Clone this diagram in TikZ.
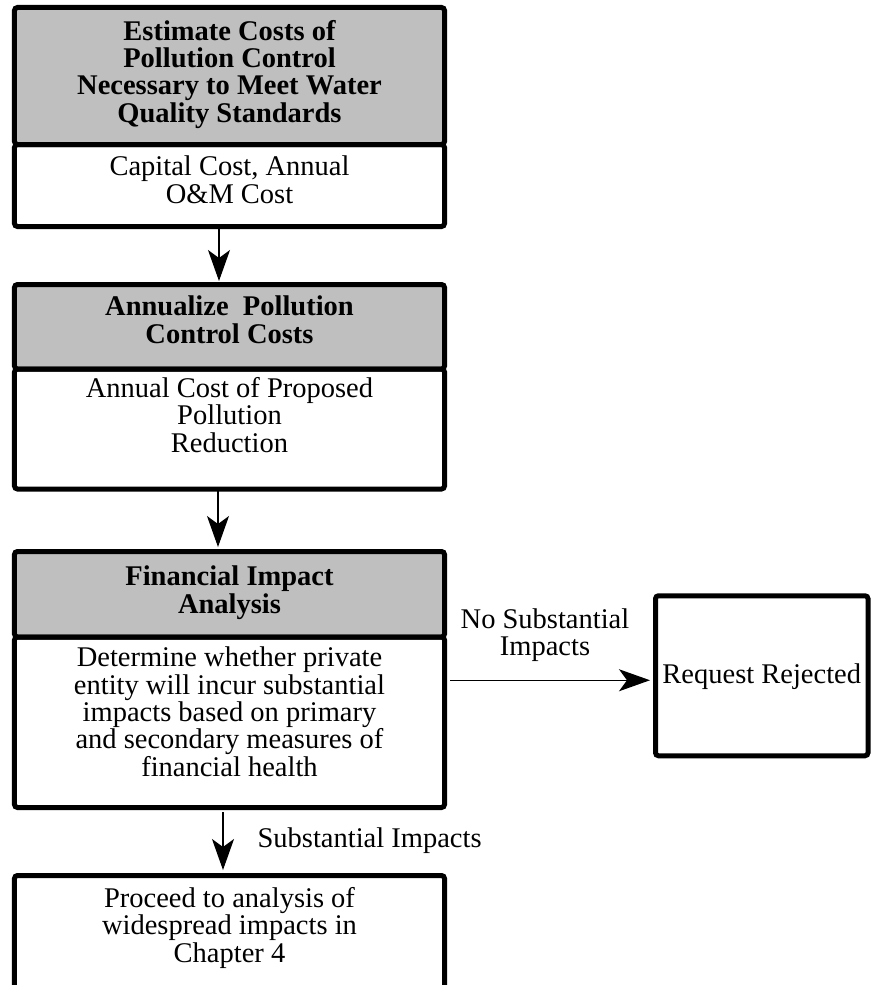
\documentclass[tikz,border=0pt]{standalone}
\usepackage{fontspec}
\setmainfont{Liberation Serif}
\usetikzlibrary{arrows.meta,positioning}
\definecolor{headgray}{gray}{0.75}
\tikzset{
    -{Stealth[length=31pt,width=22pt,inset=8pt]},auto,node distance =58pt and 211pt,
    box/.style ={rectangle, draw, line width=5pt, rounded corners=3pt, minimum width=430pt,
                 inner ysep=0pt, outer sep=0pt, align=center, font=\fontsize{28.5pt}{27.3pt}\selectfont},
    head/.style = {box, fill=headgray, font=\fontsize{28.5pt}{27.3pt}\selectfont\bfseries},
    link/.style = {line width=1.2pt},
    el/.style = {inner sep=0pt, align=center, font=\fontsize{28.5pt}{27.3pt}\selectfont}
}
\begin{document}
\begin{tikzpicture}
    \node[head, text height=114.5pt, text depth=22.5pt] (cost) {Estimate Costs of\\Pollution Control\\Necessary to Meet Water\\Quality Standards};
    \useasboundingbox ([xshift=-14.5pt,yshift=7.5pt]cost.north west) rectangle ++(871pt,-985pt);
    \node[box, text height=58.5pt, text depth=23.5pt] (costtxt) [below=0pt of cost] {Capital Cost, Annual\\O\&M Cost};
    \node[head, text height=58.5pt, text depth=26pt] (annual) [below=of costtxt] {Annualize\ \ Pollution\\Control Costs};
    \node[box, text height=83pt, text depth=37pt] (annualtxt) [below=0pt of annual] {Annual Cost of Proposed\\Pollution\\Reduction};
    \node[head, text height=61.5pt, text depth=24pt] (fin) [below=62.5pt of annualtxt] {Financial Impact\\Analysis};
    \node[box, text height=139pt, text depth=31.5pt] (fintxt) [below=0pt of fin] {Determine whether private\\entity will incur substantial\\impacts based on primary\\and secondary measures of\\financial health};
    \node[box, text height=86.5pt, text depth=28pt] (proc) [below=68pt of fintxt] {Proceed to analysis of\\widespread impacts in\\Chapter 4};
    \node[box, minimum width=212.5pt, text height=87.5pt, text depth=72.5pt] (rej) [right=of fintxt, yshift=46.5pt] {Request Rejected};

    \path[link] ([xshift=-10.5pt]costtxt.south) edge ([xshift=-10.5pt,yshift=3.5pt]annual.north);
    \path[link] ([xshift=-11.5pt]annualtxt.south) edge ([xshift=-11.5pt,yshift=4.5pt]fin.north);
    \path[link] ([xshift=5.5pt,yshift=-4.5pt]fintxt.east |- rej.west) edge node[el, above=18pt, xshift=-5pt] {No Substantial\\Impacts} ([xshift=-5.5pt,yshift=-4.5pt]rej.west);
    \path[link] ([xshift=-6.5pt,yshift=-4.5pt]fintxt.south) edge node[el, right=34pt] {Substantial Impacts} ([xshift=-6.5pt,yshift=5.5pt]proc.north);
\end{tikzpicture}
\end{document}
